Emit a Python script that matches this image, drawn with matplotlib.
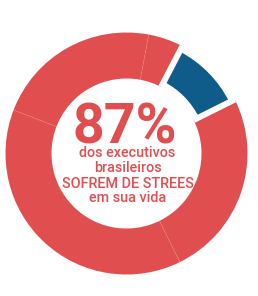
import numpy as np
import matplotlib
matplotlib.use("Agg")
import matplotlib.pyplot as plt

# data (share of the ring)
segment_labels = ["não sofrem", "sofrem a", "sofrem b", "sofrem c", "sofrem d"]
segment_values = [10.0, 25.1, 38.1, 22.1, 4.7]
segment_colors = ["#0F5B8A", "#E04E50", "#E04E50", "#E04E50", "#E04E50"]
headline = "87%"
caption_lines = ["dos executivos", "brasileiros", "SOFREM DE STREES", "em sua vida"]

RED = "#E04E50"
W, H = 258, 296
fig = plt.figure(figsize=(W / 100, H / 100), dpi=100)
ax = fig.add_axes([0, 0, 1, 1])

cx, cy = 126.5, H - 153.5
R_out, R_in = 121.0, 75.0
start = 62.5

wedges, _ = ax.pie(segment_values, colors=segment_colors, startangle=start,
                   counterclock=False, radius=R_out, center=(cx, cy),
                   wedgeprops=dict(width=R_out - R_in, linewidth=0, edgecolor="none"),
                   frame=True)
ax.set_xlim(0, W)
ax.set_ylim(0, H)
ax.set_aspect("equal")
ax.axis("off")

# highlighted wedge: slightly thinner with white gap
b = wedges[0]
b.set_radius(118.0)
b.set_width(118.0 - 78.0)
b.set_edgecolor("white")
b.set_linewidth(4.3)
b.set_zorder(3)

# faint seams between red pieces
vals = np.array(segment_values)
cum = np.cumsum(vals) / vals.sum() * 360.0
for k in range(1, len(vals) - 1):
    ang = np.deg2rad(start - cum[k])
    ax.plot([cx + R_in * np.cos(ang), cx + R_out * np.cos(ang)],
            [cy + R_in * np.sin(ang), cy + R_out * np.sin(ang)],
            color="#EC8282", lw=0.45, ls=(0, (2, 1.5)), zorder=2)

ax.text(124.5, H - 144, headline, ha="center", va="baseline", color=RED,
        fontsize=40, fontweight="bold", family="Roboto")
baselines = [157, 172, 188, 202]
for line, yb in zip(caption_lines, baselines):
    ax.text(127.5, H - yb, line, ha="center", va="baseline", color=RED,
            fontsize=10.4, family="Roboto", fontweight=500)

fig.savefig("out.png", dpi=100)
